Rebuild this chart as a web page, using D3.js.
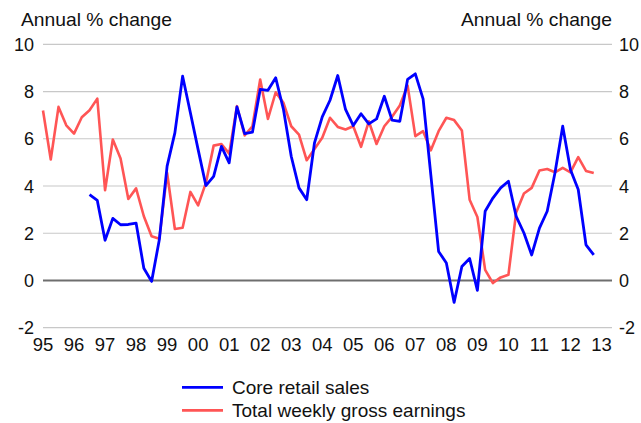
<!DOCTYPE html>
<html>
<head>
<meta charset="utf-8">
<script src="https://cdn.jsdelivr.net/npm/d3@7"></script>
<style>
  body { margin: 0; background: #fff; }
  text { font-family: "Liberation Sans", Arial, sans-serif; fill: #111; }
</style>
</head>
<body>
<svg id="chart" width="641" height="423"></svg>
<script>
// quarterly data, index 0 = 1995 Q1
var yearLabels = ["95","96","97","98","99","00","01","02","03","04","05","06","07","08","09","10","11","12","13"];
var yTicks = [-2, 0, 2, 4, 6, 8, 10];

// core retail sales starts 1996 Q3 (index 6)
var retailStart = 6;
var retailSales = [3.63, 3.39, 1.70, 2.63, 2.36, 2.37, 2.43, 0.52, -0.04, 1.73,
  4.84, 6.25, 8.65, 7.1, 5.54, 4.02, 4.41, 5.68, 4.98, 7.35,
  6.22, 6.28, 8.09, 8.05, 8.58, 7.24, 5.26, 3.92, 3.42, 5.83,
  6.93, 7.63, 8.68, 7.24, 6.56, 7.06, 6.63, 6.84, 7.8, 6.79,
  6.74, 8.51, 8.75, 7.69, 4.46, 1.23, 0.74, -0.93, 0.59, 0.93,
  -0.42, 2.93, 3.49, 3.92, 4.2, 2.71, 2.01, 1.08, 2.22, 2.93,
  4.55, 6.53, 4.69, 3.85, 1.51, 1.08];

var earnings = [7.2, 5.12, 7.35, 6.57, 6.22, 6.91, 7.21, 7.7, 3.82, 5.97,
  5.16, 3.45, 3.9, 2.72, 1.87, 1.77, 4.55, 2.18, 2.23, 3.75,
  3.18, 4.13, 5.71, 5.78, 5.37, 7.38, 6.14, 6.53, 8.51, 6.84,
  7.97, 7.52, 6.53, 6.18, 5.09, 5.57, 6.04, 6.89, 6.5, 6.39,
  6.53, 5.66, 6.74, 5.78, 6.53, 6.93, 7.41, 8.26, 6.11, 6.32,
  5.51, 6.32, 6.89, 6.79, 6.35, 3.42, 2.69, 0.45, -0.11, 0.13,
  0.24, 2.88, 3.68, 3.92, 4.66, 4.72, 4.58, 4.77, 4.58, 5.22,
  4.64, 4.55];

var svg = d3.select("#chart");

var x = d3.scaleLinear().domain([0, 72]).range([43, 601.5]);
var y = d3.scaleLinear().domain([-2, 10]).range([327.7, 44.3]);
var plotRight = 612;

// gridlines
svg.append("g").selectAll("line")
  .data(yTicks)
  .enter().append("line")
    .attr("x1", x(0)).attr("x2", plotRight)
    .attr("y1", function(d) { return y(d); })
    .attr("y2", function(d) { return y(d); })
    .attr("stroke", function(d) { return d === 0 ? "#6e6e6e" : "#c8c8c8"; })
    .attr("stroke-width", function(d) { return d === 0 ? 2 : 1.2; });

// y labels both sides
svg.append("g").selectAll("text")
  .data(yTicks)
  .enter().append("text")
    .attr("x", 34)
    .attr("y", function(d) { return y(d) + 6.5; })
    .attr("text-anchor", "end")
    .style("font-size", "18px")
    .text(function(d) { return d; });

svg.append("g").selectAll("text")
  .data(yTicks)
  .enter().append("text")
    .attr("x", 619)
    .attr("y", function(d) { return y(d) + 6.5; })
    .attr("text-anchor", "start")
    .style("font-size", "18px")
    .text(function(d) { return d; });

// x labels
svg.append("g").selectAll("text")
  .data(yearLabels)
  .enter().append("text")
    .attr("x", function(d, i) { return x(i * 4); })
    .attr("y", 351)
    .attr("text-anchor", "middle")
    .style("font-size", "18.5px")
    .text(function(d) { return d; });

// axis titles
svg.append("text").attr("x", 21).attr("y", 26)
  .style("font-size", "18.5px")
  .attr("textLength", 151).attr("lengthAdjust", "spacingAndGlyphs")
  .text("Annual % change");
svg.append("text").attr("x", 461).attr("y", 26)
  .style("font-size", "18.5px")
  .attr("textLength", 151).attr("lengthAdjust", "spacingAndGlyphs")
  .text("Annual % change");

var line = d3.line()
  .x(function(d) { return x(d.i); })
  .y(function(d) { return y(d.v); });

var earnPts = earnings.map(function(v, i) { return {i: i, v: v}; });
var retailPts = retailSales.map(function(v, i) { return {i: i + retailStart, v: v}; });

svg.append("path")
  .datum(earnPts)
  .attr("d", line)
  .attr("fill", "none")
  .attr("stroke", "#ff5555")
  .attr("stroke-width", 2.6)
  .attr("stroke-linejoin", "round");

svg.append("path")
  .datum(retailPts)
  .attr("d", line)
  .attr("fill", "none")
  .attr("stroke", "#0000ff")
  .attr("stroke-width", 2.8)
  .attr("stroke-linejoin", "round");

// legend
var legend = [
  {name: "Core retail sales", color: "#0000ff"},
  {name: "Total weekly gross earnings", color: "#ff5555"}
];
var lg = svg.append("g").selectAll("g")
  .data(legend)
  .enter().append("g")
    .attr("transform", function(d, i) { return "translate(182," + (387.3 + i * 23) + ")"; });
lg.append("line")
  .attr("x1", 0).attr("x2", 41)
  .attr("stroke", function(d) { return d.color; })
  .attr("stroke-width", 2.8);
lg.append("text")
  .attr("x", 50).attr("y", 6.3)
  .style("font-size", "19px")
  .text(function(d) { return d.name; });
</script>
</body>
</html>
